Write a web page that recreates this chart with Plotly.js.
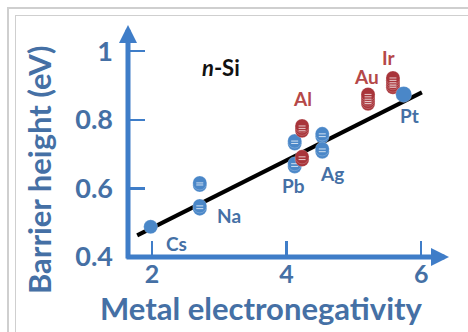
<!DOCTYPE html>
<html>
<head>
<meta charset="utf-8">
<script src="https://cdn.plot.ly/plotly-3.0.1.min.js"></script>
<style>
  html, body { margin:0; padding:0; background:#fff; width:468px; height:332px; overflow:hidden; }
  .frame { position:absolute; right:-10px; bottom:-10px; border-left:2px solid #cfcfcf; border-top:2px solid #cfcfcf; }
  #f1 { left:7px; top:7px; }
  #f2 { left:15px; top:15px; border-width:1.5px; }
  #chart { position:absolute; left:0; top:0; width:468px; height:332px; }
</style>
</head>
<body>
<div class="frame" id="f1"></div>
<div class="frame" id="f2"></div>
<div id="chart"></div>
<script>
// ---- data ----
const xTicks = [2, 4, 6];
const xTickText = ['2', '4', '6'];
const yTicks = [0.4, 0.6, 0.8, 1.0];
const yTickText = ['0.4', '0.6', '0.8', '1'];

// blue points: Cs, Na (two clusters), Pb (two clusters), Ag (two clusters)
const blueX = [1.98, 2.71, 2.71, 2.71, 2.71, 4.12, 4.12, 4.12, 4.12, 4.53, 4.53, 4.53, 4.53];
const blueY = [0.488, 0.610, 0.616, 0.541, 0.549, 0.731, 0.738, 0.664, 0.672, 0.751, 0.759, 0.707, 0.715];

// red points: Al (two clusters), Au, Ir
const redX = [4.23, 4.23, 4.23, 4.23, 4.23, 5.21, 5.21, 5.21, 5.21, 5.21, 5.58, 5.58, 5.58, 5.58, 5.58];
const redY = [0.768, 0.775, 0.782, 0.684, 0.692, 0.847, 0.853, 0.860, 0.867, 0.874, 0.895, 0.901, 0.908, 0.915, 0.922];

// Pt (blue, drawn on top)
const ptX = [5.74];
const ptY = [0.874];

// linear fit line
const fitX = [1.78, 6.01];
const fitY = [0.463, 0.880];

// metal labels
const labelText = ['Cs', 'Na', 'Pb', 'Ag', 'Pt', 'Al', 'Au', 'Ir'];
const labelX = [2.37, 3.14, 4.10, 4.67, 5.82, 4.24, 5.19, 5.52];
const labelY = [0.439, 0.521, 0.608, 0.643, 0.812, 0.862, 0.926, 0.982];
const labelIsRed = [false, false, false, false, false, true, true, true];

// ---- styles ----
const AX = '#3f7dc8';
const TXT = '#4570a5';
const BLUE = '#4a87c8';
const RED = '#a8343a';
const RED_TXT = '#b54848';
const FONT = 'Lato, "Open Sans", sans-serif';
const DASH = { symbol: 'line-ew', size: 5, color: 'rgba(255,255,255,0.75)', line: { color: 'rgba(255,255,255,0.75)', width: 1 } };

const traces = [
  { x: fitX, y: fitY, mode: 'lines', line: { color: '#000', width: 4 }, hoverinfo: 'skip' },
  { x: blueX, y: blueY, mode: 'markers',
    marker: { size: 14, color: BLUE, line: { color: 'rgba(255,255,255,0.35)', width: 0.6 } } },
  { x: blueX.slice(1), y: blueY.slice(1), mode: 'markers', marker: DASH },
  { x: redX, y: redY, mode: 'markers',
    marker: { size: 14, color: RED, line: { color: 'rgba(255,255,255,0.35)', width: 0.6 } } },
  { x: redX, y: redY, mode: 'markers', marker: DASH },
  { x: ptX, y: ptY, mode: 'markers',
    marker: { size: 16, color: BLUE, line: { color: 'rgba(255,255,255,0.4)', width: 0.5 } } }
];

const annotations = [];
// axis arrows
annotations.push({ xref: 'paper', yref: 'paper', x: 0, y: 1, axref: 'pixel', ayref: 'pixel', ax: 0, ay: 235,
  text: '', showarrow: true, arrowhead: 2, arrowsize: 0.72, arrowwidth: 5, arrowcolor: AX, standoff: 0 });
annotations.push({ xref: 'paper', yref: 'paper', x: 1, y: 0, axref: 'pixel', ayref: 'pixel', ax: -324, ay: 0,
  text: '', showarrow: true, arrowhead: 2, arrowsize: 0.72, arrowwidth: 5, arrowcolor: AX, standoff: 0 });
// axis titles
annotations.push({ xref: 'paper', yref: 'paper', x: 0.4174, y: -0.218, xanchor: 'center', yanchor: 'middle',
  text: 'Metal electronegativity', showarrow: false,
  font: { family: FONT, size: 31, color: TXT, weight: 'bold' } });
annotations.push({ xref: 'paper', yref: 'paper', x: -0.277, y: 0.375, xanchor: 'center', yanchor: 'middle',
  text: 'Barrier height (eV)', textangle: -90, showarrow: false,
  font: { family: FONT, size: 31, color: TXT, weight: 'bold' } });
// n-Si
annotations.push({ xref: 'x', yref: 'y', x: 3.03, y: 0.952, xanchor: 'center', yanchor: 'middle',
  text: '<i>n</i>-Si', showarrow: false, font: { family: FONT, size: 22, color: '#111', weight: 'bold' } });
// metal labels
for (let i = 0; i < labelText.length; i++) {
  annotations.push({ xref: 'x', yref: 'y', x: labelX[i], y: labelY[i], xanchor: 'center', yanchor: 'middle',
    text: labelText[i], showarrow: false,
    font: { family: FONT, size: 19, color: labelIsRed[i] ? RED_TXT : TXT, weight: 'bold' } });
}

const layout = {
  width: 468, height: 332,
  margin: { l: 128, r: 19, t: 25, b: 75, pad: 0 },
  paper_bgcolor: 'rgba(0,0,0,0)', plot_bgcolor: 'rgba(0,0,0,0)',
  showlegend: false,
  xaxis: {
    range: [1.6434, 6.413], showgrid: false, zeroline: false, showline: false,
    ticks: 'inside', ticklen: 16, tickwidth: 2.5, tickcolor: AX,
    tickvals: xTicks, ticktext: xTickText, ticklabelstandoff: 0,
    tickfont: { family: FONT, size: 25, color: TXT, weight: 'bold' }
  },
  yaxis: {
    range: [0.4, 1.0764], showgrid: false, zeroline: false, showline: false,
    ticks: 'inside', ticklen: 17, tickwidth: 2.5, tickcolor: AX,
    tickvals: yTicks, ticktext: yTickText, ticklabelstandoff: 14,
    tickfont: { family: FONT, size: 27, color: TXT, weight: 'bold' }
  },
  annotations: annotations
};

Plotly.newPlot('chart', traces, layout, { staticPlot: true, displayModeBar: false });
</script>
</body>
</html>
